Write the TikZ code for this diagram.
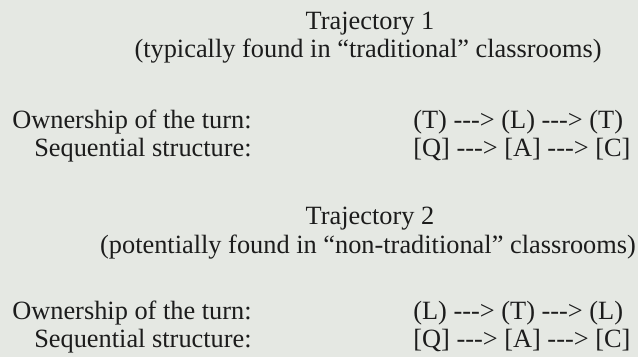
\documentclass[tikz,border=0pt]{standalone}
\usepackage{fontspec}
\setmainfont{Liberation Serif}
\usepackage{tikz}

\definecolor{fundo}{RGB}{229,232,227}
\definecolor{tinta}{RGB}{28,28,28}
\newcommand{\seta}{-{}-{}->}

\begin{document}
\begin{tikzpicture}[
			x=0.02cm, y=-0.02cm,
			font=\fontsize{15}{18}\selectfont,
			text=tinta,
			titulo/.style={anchor=base, inner sep=0pt},
			rotulo/.style={anchor=base east, inner sep=0pt},
			sequencia/.style={anchor=base west, inner sep=0pt}
		]
		\fill[fundo] (0,0) rectangle (638,357);
		\useasboundingbox (0,0) rectangle (638,357);

		% trajetoria 1
		\node[titulo] (t1) at (370,30) {Trajectory 1};
		\node[titulo] (t1b) at (368,58) {(typically found in “traditional” classrooms)};
		\node[rotulo] (r1a) at (252,129) {Ownership of the turn:};
		\node[rotulo] (r1b) at (252,157) {Sequential structure:};
		\node[sequencia] (s1a) at (413,129) {(T) \seta{} (L) \seta{} (T)};
		\node[sequencia] (s1b) at (413,157) {[Q] \seta{} [A] \seta{} [C]};

		% trajetoria 2
		\node[titulo] (t2) at (370,225) {Trajectory 2};
		\node[titulo] (t2b) at (368,254) {(potentially found in “non-traditional” classrooms)};
		\node[rotulo] (r2a) at (252,320) {Ownership of the turn:};
		\node[rotulo] (r2b) at (252,348) {Sequential structure:};
		\node[sequencia] (s2a) at (413,320) {(L) \seta{} (T) \seta{} (L)};
		\node[sequencia] (s2b) at (413,348) {[Q] \seta{} [A] \seta{} [C]};
	\end{tikzpicture}
\end{document}
